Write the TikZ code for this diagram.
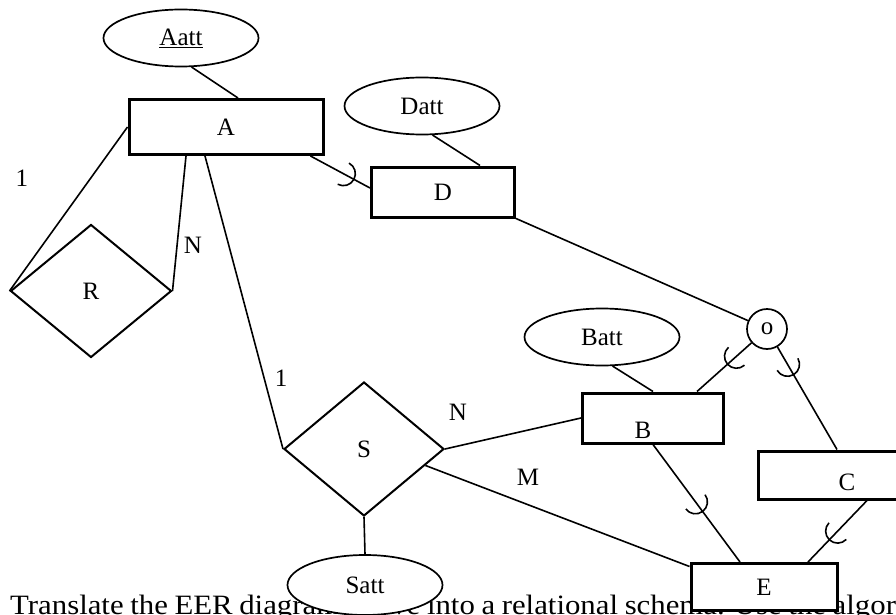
\documentclass[tikz,border=0pt]{standalone}
\usepackage{fontspec}
\setmainfont{Liberation Serif}
\usetikzlibrary{shapes, positioning, decorations.markings}

\begin{document}
\begin{tikzpicture}[
        x=1pt, y=-1pt,
        font=\fontsize{25}{30}\selectfont,
        entity/.style={rectangle, draw=black, line width=3pt, fill=white, minimum width=141pt, minimum height=50pt, inner sep=0pt},
        relation/.style={diamond, draw=black, line width=2pt, fill=white, minimum width=160pt, minimum height=134pt, inner sep=0pt},
        attribute/.style={ellipse, draw=black, line width=1.7pt, fill=white, minimum width=155pt, minimum height=57pt, inner sep=0pt},
        overlap/.style={circle, draw=black, line width=1.7pt, fill=white, minimum size=40pt, inner sep=0pt},
        line/.style={line width=1.6pt},
        subset/.style={postaction={decorate}, decoration={markings, mark=at position #1 with {\draw[line width=1.6pt] (-12pt,12pt) arc[start angle=90, end angle=-90, radius=12pt];}}}
        ]

        \path[use as bounding box, clip] (0,0) rectangle (896,615);

        \node (task) [anchor=base west, inner sep=0pt, font=\fontsize{28}{34}\selectfont] at (10,614) {\scalebox{1.1}[1]{\spaceskip=6pt Translate the EER diagram above into a relational schema. Use the algori}};

        \node (Aatt) [attribute] at (181,38) {\underline{Aatt}};
        \node (A) [entity, minimum width=194pt, minimum height=55pt] at (226,127) {A};
        \node (Datt) [attribute] at (422,106) {Datt};
        \node (D) [entity, minimum width=143pt] at (443,192) {D};
        \node (R) [relation, minimum width=161pt, minimum height=133pt] at (91,291) {R};
        \node (S) [relation] at (364,449) {S};
        \node (Satt) [attribute, minimum height=60pt] at (365,585) {Satt};
        \node (o) [overlap] at (767,329) {o};
        \node (Batt) [attribute] at (602,337) {Batt};
        \node (B) [entity, label={[shift={(-10pt,-12pt)}]center:B}] at (653,418) {};
        \node (C) [entity, minimum height=48pt, label={[shift={(18pt,-7pt)}]center:C}] at (829,475) {};
        \node (E) [entity, minimum width=146pt, minimum height=47pt] at (764,587) {E};

        \node (oneR) at (22,178) {1};
        \node (nR) at (193,245) {N};
        \node (oneS) at (281,378) {1};
        \node (nS) at (458,412) {N};
        \node (mS) at (528,477) {M};

        \draw [line] (Aatt.-70) -- ([xshift=12pt]A.north);
        \draw [line] (R.west) -- (A.west);
        \draw [line] ([xshift=-40pt]A.south) -- (R.east);
        \draw [line] ([xshift=-21pt]A.south) -- (S.west);
        \draw [line, subset=0.73] ([xshift=-14pt]A.south east) -- ([yshift=4pt]D.west);
        \draw [line] (Datt.-70) -- ([xshift=37pt]D.north);
        \draw [line] (D.south east) -- (o);
        \draw [line, subset=0.44] (o) -- ([xshift=44pt]B.north);
        \draw [line, subset=0.27] (o) -- ([xshift=8pt]C.north);
        \draw [line] (Batt.-70) -- (B.north);
        \draw [line] (S.east) -- (B.west);
        \draw [line] (S.-15) -- ([yshift=-4.5pt]E.north west);
        \draw [line] (S.south) -- (Satt.north);
        \draw [line, subset=0.57] (B.south) -- ([xshift=-24pt]E.north);
        \draw [line, subset=0.64] ([xshift=38pt]C.south) -- ([xshift=44pt]E.north);

    \end{tikzpicture}
\end{document}
